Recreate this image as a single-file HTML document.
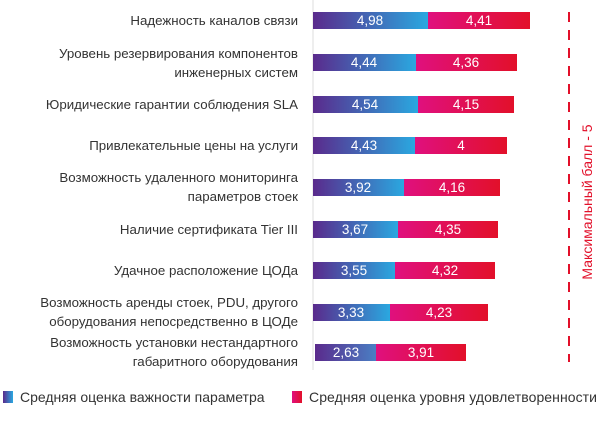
<!DOCTYPE html>
<html><head><meta charset="utf-8"><style>
body{margin:0;background:#fff}
svg text{font-family:"Liberation Sans",sans-serif}
</style></head><body>
<svg width="600" height="424" viewBox="0 0 600 424" xmlns="http://www.w3.org/2000/svg">
<defs>
<linearGradient id="b" x1="0" x2="1"><stop offset="0" stop-color="#5a2a8c"/><stop offset="1" stop-color="#2aa8e0"/></linearGradient>
<linearGradient id="b2" x1="0" x2="1"><stop offset="0" stop-color="#5a2a8c"/><stop offset="1" stop-color="#4a7fc4"/></linearGradient>
<linearGradient id="r" x1="0" x2="1"><stop offset="0" stop-color="#e0107e"/><stop offset="1" stop-color="#e2102a"/></linearGradient>
</defs>
<line x1="313" y1="0" x2="313" y2="370" stroke="#ddd" stroke-width="1"/>
<line x1="569" y1="12" x2="569" y2="362" stroke="#e2102a" stroke-width="2" stroke-dasharray="10 8"/>
<text transform="translate(592,202) rotate(-90)" text-anchor="middle" font-size="14" fill="#e2102a">Максимальный балл - 5</text>
<g font-size="13.3" fill="#333" text-anchor="end">
<text x="298" y="25">Надежность каналов связи</text>
<text x="298" y="58">Уровень резервирования компонентов</text>
<text x="298" y="77">инженерных систем</text>
<text x="298" y="109">Юридические гарантии соблюдения SLA</text>
<text x="298" y="150">Привлекательные цены на услуги</text>
<text x="298" y="182">Возможность удаленного мониторинга</text>
<text x="298" y="201">параметров стоек</text>
<text x="298" y="234">Наличие сертификата Tier III</text>
<text x="298" y="275">Удачное расположение ЦОДа</text>
<text x="298" y="307">Возможность аренды стоек, PDU, другого</text>
<text x="298" y="326">оборудования непосредственно в ЦОДе</text>
<text x="298" y="347">Возможность установки нестандартного</text>
<text x="298" y="366">габаритного оборудования</text>
</g>
<g font-size="13.5" fill="#fff" text-anchor="middle">
<rect x="313" y="12" width="115" height="17" fill="url(#b)"/><rect x="428" y="12" width="102" height="17" fill="url(#r)"/><text x="370" y="25">4,98</text><text x="479" y="25">4,41</text>
<rect x="313" y="54" width="103" height="17" fill="url(#b)"/><rect x="416" y="54" width="101" height="17" fill="url(#r)"/><text x="364" y="67">4,44</text><text x="466" y="67">4,36</text>
<rect x="313" y="96" width="105" height="17" fill="url(#b)"/><rect x="418" y="96" width="96" height="17" fill="url(#r)"/><text x="365" y="109">4,54</text><text x="466" y="109">4,15</text>
<rect x="313" y="137" width="102" height="17" fill="url(#b)"/><rect x="415" y="137" width="92" height="17" fill="url(#r)"/><text x="364" y="150">4,43</text><text x="461" y="150">4</text>
<rect x="313" y="179" width="91" height="17" fill="url(#b)"/><rect x="404" y="179" width="96" height="17" fill="url(#r)"/><text x="358" y="192">3,92</text><text x="452" y="192">4,16</text>
<rect x="313" y="221" width="85" height="17" fill="url(#b)"/><rect x="398" y="221" width="100" height="17" fill="url(#r)"/><text x="355" y="234">3,67</text><text x="448" y="234">4,35</text>
<rect x="313" y="262" width="82" height="17" fill="url(#b)"/><rect x="395" y="262" width="100" height="17" fill="url(#r)"/><text x="354" y="275">3,55</text><text x="445" y="275">4,32</text>
<rect x="313" y="304" width="77" height="17" fill="url(#b)"/><rect x="390" y="304" width="98" height="17" fill="url(#r)"/><text x="351" y="317">3,33</text><text x="439" y="317">4,23</text>
<rect x="315" y="344" width="61" height="17" fill="url(#b2)"/><rect x="376" y="344" width="90" height="17" fill="url(#r)"/><text x="346" y="357">2,63</text><text x="421" y="357">3,91</text>
</g>
<rect x="3" y="391" width="10" height="12" fill="url(#b)"/>
<text x="20" y="402" font-size="14" fill="#333">Средняя оценка важности параметра</text>
<rect x="292" y="391" width="10" height="12" fill="url(#r)"/>
<text x="309" y="402" font-size="14" fill="#333" textLength="288">Средняя оценка уровня удовлетворенности</text>
</svg>
</body></html>
